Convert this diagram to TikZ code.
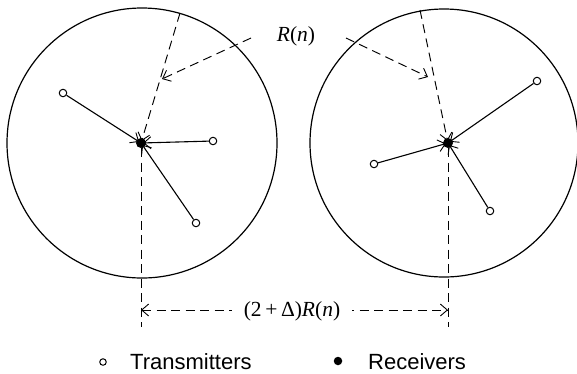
\documentclass[tikz,border=0pt]{standalone}
\usepackage{fontspec}
\setmainfont{Liberation Serif}
\newfontfamily\legfont{Liberation Sans}
\usetikzlibrary{arrows.meta}
\tikzset{
  cell/.style={line width=1.2pt},
  tx/.style={circle,draw,fill=white,line width=1pt,inner sep=0pt,minimum size=7.5pt},
  rx/.style={circle,fill=black,inner sep=0pt,minimum size=10pt},
  link/.style={line width=1.1pt,-{Straight Barb[length=7pt,width=12pt,line width=0.9pt]},shorten >=-3pt},
  dsh/.style={line width=0.95pt,dash pattern=on 9pt off 5.5pt},
  darr/.style={dsh,-{Straight Barb[length=7pt,width=12pt,line width=0.9pt]}},
  lbl/.style={font=\fontsize{21.5}{24}\selectfont,inner sep=0pt},
  leg/.style={font=\legfont\fontsize{22}{26}\selectfont,anchor=west,inner sep=0pt}
}
\begin{document}
\begin{tikzpicture}[x=1pt,y=-1pt]
\useasboundingbox (0,0) rectangle (577,373);
% cells
\draw[cell] (142,143) circle (135);
\draw[cell] (444,143) circle (134);
% receivers
\node[rx] (r1) at (141,143) {};
\node[rx] (r2) at (448,143) {};
% transmitters
\node[tx] (t1) at (63,93) {};
\node[tx] (t2) at (213,141) {};
\node[tx] (t3) at (196,223) {};
\node[tx] (t4) at (537,81) {};
\node[tx] (t5) at (374,164) {};
\node[tx] (t6) at (490,211) {};
\draw[link] (t1) -- (r1);
\draw[link] (t2) -- (r1);
\draw[link] (t3) -- (r1);
\draw[link] (t4) -- (r2);
\draw[link] (t5) -- (r2);
\draw[link] (t6) -- (r2);
% radii
\coordinate (top1) at (180,13);
\coordinate (top2) at (420,10);
\coordinate (bot1) at (141,327);
\coordinate (bot2) at (448,327);
\draw[darr,shorten >=-3pt] (top1) -- (r1);
\draw[darr,shorten >=-3pt] (top2) -- (r2);
\draw[dsh] (r1) -- (bot1);
\draw[dsh] (r2) -- (bot2);
% R(n) label
\node[lbl] (rn) at (296,36) {\itshape R\upshape(\itshape n\upshape)};
\coordinate (a1s) at (251,38);
\coordinate (a1e) at (162,79);
\coordinate (a2s) at (346,38);
\coordinate (a2e) at (428,77);
\draw[darr] (a1s) -- (a1e);
\draw[darr] (a2s) -- (a2e);
% distance
\coordinate (d1) at (141,310);
\coordinate (d2) at (448,310);
\draw[dsh,{Straight Barb[length=7pt,width=12pt,line width=0.9pt]}-{Straight Barb[length=7pt,width=12pt,line width=0.9pt]}] (d1) -- (d2);
\node[lbl,fill=white,inner xsep=12pt,inner ysep=4pt] (dist) at (292,311) {(2\,+\,Δ)\itshape R\upshape(\itshape n\upshape)};
% legend
\node[tx,minimum size=6.5pt] (lt) at (103,362) {};
\node[leg] (ltxt) at (130,362) {Transmitters};
\node[rx,minimum size=8.5pt] (lr) at (338,361) {};
\node[leg] (lrtxt) at (368,362) {Receivers};
\end{tikzpicture}
\end{document}
